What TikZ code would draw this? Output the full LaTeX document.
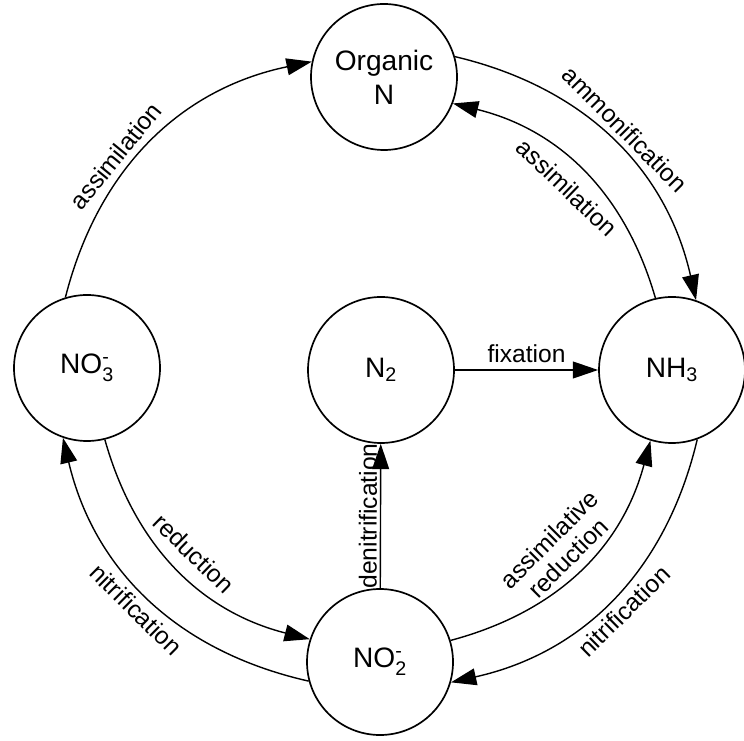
\documentclass[tikz,border=0pt]{standalone}
\usepackage{fontspec}
\setmainfont{Liberation Sans}
\usepackage{amsmath}
\usetikzlibrary{arrows.meta}

% species with stacked sub- and superscript
\newcommand{\ion}[3]{#1$_{\text{#2}}^{\text{#3}}$}

\begin{document}
\begin{tikzpicture}[
    pool/.style={circle, draw, line width=1.2pt, minimum size=3.65cm, inner sep=0pt,
                 align=center, font=\fontsize{20}{24}\selectfont},
    flux/.style={line width=1pt, -{Triangle[length=18pt,width=12pt]}},
    lab/.style={font=\fontsize{17.5}{19}\selectfont, sloped, inner sep=5pt},
    inlab/.style={lab, inner sep=9pt}
]
        \useasboundingbox (0,0) rectangle (18.6,18.5);

        % the five nitrogen pools
        \node[pool] (org) at (9.6,16.575) {Organic\\N};
        \node[pool] (no3) at (2.175,9.3) {\ion{NO}{3}{-}};
        \node[pool] (n2)  at (9.525,9.25) {N$_{\text{2}}$};
        \node[pool] (nh3) at (16.8,9.25) {NH$_{\text{3}}$};
        \node[pool] (no2) at (9.5,1.95) {\ion{NO}{2}{-}};

        % outer ring (clockwise)
        \draw[flux] (no3.107) to[bend left=32]
            node[lab, pos=0.4, above] {assimilation} (org.168);
        \draw[flux] (org.16) to[bend left=32]
            node[lab, midway, above] {ammonification} (nh3.71);
        \draw[flux] (nh3.290) to[bend left=32]
            node[lab, midway, below] {nitrification} (no2.344);
        \draw[flux] (no2.195) to[bend left=32]
            node[lab, midway, below] {nitrification} (no3.251);

        % inner ring (counter-clockwise)
        \draw[flux] (nh3.103) to[bend right=30]
            node[inlab, midway, below] {assimilation} (org.-21);
        \draw[flux] (no3.-76) to[bend right=30]
            node[inlab, midway, above] {reduction} (no2.162);
        \draw[flux] (no2.17) to[bend right=30]
            node[lab, midway, above, align=center] {assimilative\\reduction} (nh3.253);

        % straight links through the middle
        \draw[flux] (n2) -- node[lab, midway, above] {fixation} (nh3);
        \draw[flux] (no2) -- node[lab, midway, above, inner sep=2pt] {denitrification} (n2);
\end{tikzpicture}
\end{document}
